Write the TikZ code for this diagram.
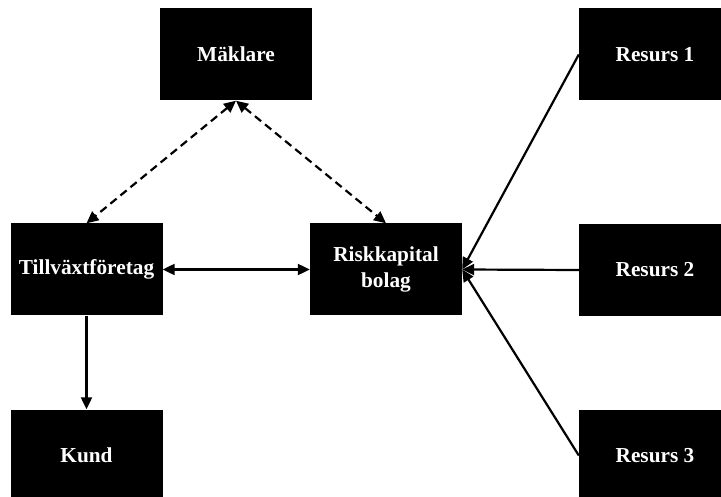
\documentclass[tikz,border=0pt]{standalone}
\usepackage{fontspec}
\setmainfont{Liberation Serif}
\usetikzlibrary{arrows.meta}
\begin{document}
\begin{tikzpicture}[x=1pt,y=-1pt,
  box/.style={rectangle, fill=black, text=white, minimum width=152pt, minimum height=92pt,
    inner sep=0pt, align=center, font=\fontsize{21.3}{26}\selectfont\bfseries},
  tip/.style={Triangle[length=12pt,width=11pt]},
  link/.style={line width=2.2pt, -{Triangle[length=12pt,width=11pt]}},
  both/.style={line width=2.2pt, {Triangle[length=12pt,width=11pt]}-{Triangle[length=12pt,width=11pt]}},
  dashline/.style={dash pattern=on 8pt off 5pt}]
  \useasboundingbox (0,0) rectangle (721,497);
  \clip (0,0) rectangle (721,497);
  % boxes
  \node[box] (mak)  at (236,54.5)  {Mäklare};
  \node[box] (till) at (86.5,269.5) {Tillväxtföretag};
  \node[box] (risk) at (386,269.5)  {Riskkapital\\bolag};
  \node[box] (kund) at (86.5,455.5) {Kund};
  \node[box] (r1)   at (655,54.5)  {Resurs 1};
  \node[box] (r2)   at (655,270)   {Resurs 2};
  \node[box] (r3)   at (655,455.5) {Resurs 3};
  % connections
  \draw[both, dashline] (mak.south) -- (till.north);
  \draw[both, dashline] (mak.south) -- (risk.north);
  \draw[both] (till.east) -- (risk.west);
  \draw[link] (till.south) -- (kund.north);
  \draw[link] (r1.west) -- (risk.east);
  \draw[link] (r2.west) -- (risk.east);
  \draw[link] (r3.west) -- (risk.east);
\end{tikzpicture}
\end{document}
